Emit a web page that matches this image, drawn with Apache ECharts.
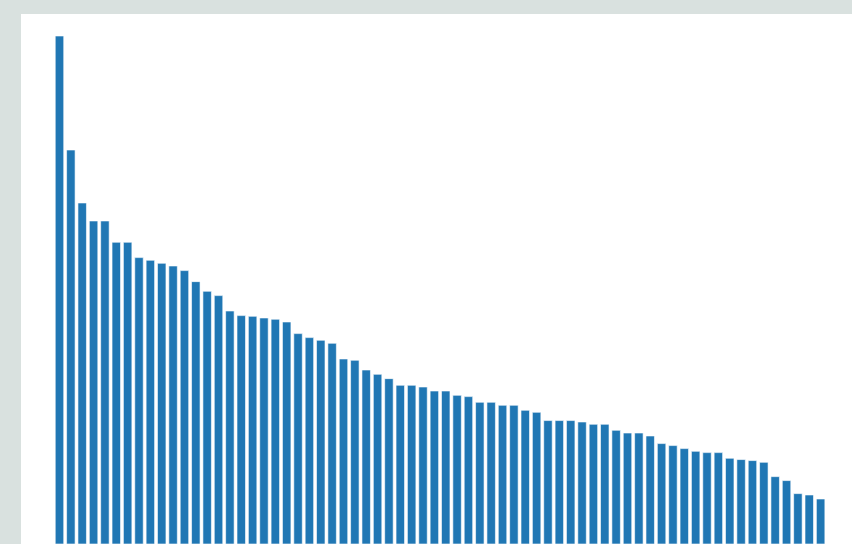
<!DOCTYPE html>
<html>
<head>
<meta charset="utf-8">
<style>
  html, body { margin: 0; padding: 0; background: #d9e1df; }
  #chart { width: 852px; height: 544px; }
</style>
<script src="https://cdn.jsdelivr.net/npm/echarts@6/dist/echarts.min.js"></script>
</head>
<body>
<div id="chart"></div>
<script>
const categories = ["1","2","3","4","5","6","7","8","9","10","11","12","13","14","15","16","17","18","19","20",
  "21","22","23","24","25","26","27","28","29","30","31","32","33","34","35","36","37","38","39","40",
  "41","42","43","44","45","46","47","48","49","50","51","52","53","54","55","56","57","58","59","60",
  "61","62","63","64","65","66","67","68"];
const values = [96.32, 77.0, 68.02, 64.97, 64.97, 61.36, 61.36, 58.76, 58.31, 57.80,
  57.34, 56.56, 54.69, 53.05, 52.32, 49.71, 48.93, 48.81, 48.53, 48.31,
  47.85, 45.88, 45.20, 44.75, 44.24, 41.58, 41.36, 39.71, 38.98, 38.25,
  37.12, 37.12, 36.83, 36.15, 36.15, 35.42, 35.20, 34.24, 34.24, 33.73,
  33.73, 32.88, 32.54, 31.14, 31.14, 31.14, 30.90, 30.51, 30.51, 29.49,
  29.03, 29.03, 28.53, 27.24, 26.90, 26.39, 25.93, 25.71, 25.71, 24.75,
  24.53, 24.36, 24.07, 21.64, 20.97, 18.76, 18.53, 17.85];
const yMin = 10.17;
const yMax = 100;

const chart = echarts.init(document.getElementById('chart'), null, { renderer: 'canvas' });
chart.setOption({
  animation: false,
  backgroundColor: '#d9e1df',
  graphic: [{
    type: 'rect',
    z: -10,
    silent: true,
    shape: { x: 21, y: 14, width: 831, height: 530 },
    style: { fill: '#ffffff' }
  }],
  grid: { left: 53.8, right: 25.7, top: 14, bottom: 0, containLabel: false },
  xAxis: {
    type: 'category',
    data: categories,
    axisLine: { show: false },
    axisTick: { show: false },
    axisLabel: { show: false },
    splitLine: { show: false }
  },
  yAxis: {
    type: 'value',
    min: yMin,
    max: yMax,
    axisLine: { show: false },
    axisTick: { show: false },
    axisLabel: { show: false },
    splitLine: { show: false }
  },
  series: [{
    type: 'bar',
    data: values,
    barWidth: '80%',
    itemStyle: { color: '#2077b4', borderColor: '#ffffff', borderWidth: 0.6 }
  }]
});
</script>
</body>
</html>
